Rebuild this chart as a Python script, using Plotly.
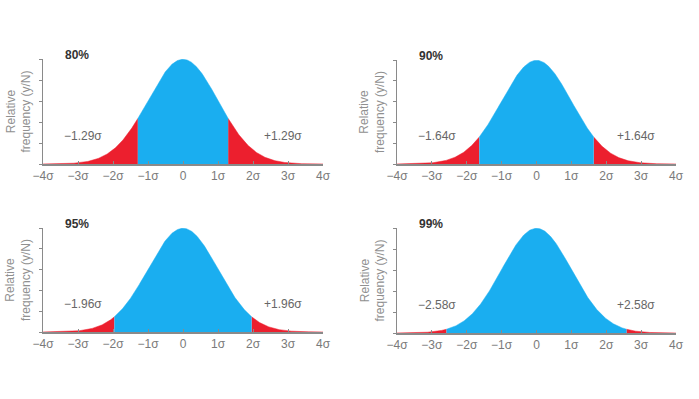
import numpy as np
import plotly.graph_objects as go

# ---- data ----
panel_titles = ["80%", "90%", "95%", "99%"]
z_values = [1.29, 1.64, 1.96, 2.58]
z_labels_left = ["\u22121.29\u03c3", "\u22121.64\u03c3", "\u22121.96\u03c3", "\u22122.58\u03c3"]
z_labels_right = ["+1.29\u03c3", "+1.64\u03c3", "+1.96\u03c3", "+2.58\u03c3"]
x_tick_vals = [-4, -3, -2, -1, 0, 1, 2, 3, 4]
x_tick_text = ["\u22124\u03c3", "\u22123\u03c3", "\u22122\u03c3", "\u22121\u03c3", "0", "1\u03c3", "2\u03c3", "3\u03c3", "4\u03c3"]
y_tick_vals = [0, 0.08, 0.16, 0.24, 0.32, 0.40]

BLUE = "#1AAEF0"
RED = "#EC1F2E"
AXIS = "#8a8a8a"
W, H = 699, 399


def pdf(x):
    return np.exp(-0.5 * x ** 2) / np.sqrt(2 * np.pi)


def px_x(p):
    return p / W


def px_y(p):
    return (H - p) / H


# window-pixel layout of the four panels: (x0, x1, ytop, ybottom)
panels_px = [(43, 323, 59, 164), (397, 676, 60, 164), (43, 323, 228, 332), (397, 676, 228, 333)]

fig = go.Figure()
layout = dict(
    template="none",
    width=W, height=H, margin=dict(l=0, r=0, t=0, b=0, pad=0, autoexpand=False),
    paper_bgcolor="white", plot_bgcolor="white", showlegend=False,
    font=dict(family="Liberation Sans, Arial, sans-serif"),
)
annotations = []

for i, (title, z, ll, rl) in enumerate(zip(panel_titles, z_values, z_labels_left, z_labels_right)):
    n = "" if i == 0 else str(i + 1)
    xa, ya = "x" + n, "y" + n
    x0, x1, yt, yb = panels_px[i]

    xl = np.linspace(-4, -z, 120)
    xc = np.linspace(-z, z, 300)
    xr = np.linspace(z, 4, 120)
    for xs, col in [(xl, RED), (xr, RED), (xc, BLUE)]:
        fig.add_trace(go.Scatter(
            x=xs, y=pdf(xs), mode="lines", fill="tozeroy",
            fillcolor=col, line=dict(color=col, width=0.5),
            xaxis=xa, yaxis=ya, hoverinfo="skip"))

    layout["xaxis" + n] = dict(
        domain=[px_x(x0), px_x(x1)], anchor=ya, range=[-4, 4], automargin=False,
        tickvals=x_tick_vals, ticktext=x_tick_text,
        showgrid=False, zeroline=False, showline=True, linecolor=AXIS, linewidth=1.5,
        ticks="inside", ticklen=3, tickcolor=AXIS,
        tickfont=dict(size=12, color="#7a7a7a"),
    )
    layout["yaxis" + n] = dict(
        domain=[px_y(yb), px_y(yt)], anchor=xa, range=[0, 0.4], automargin=False,
        tickvals=y_tick_vals, showticklabels=False,
        showgrid=False, zeroline=False, showline=True, linecolor=AXIS, linewidth=1.5,
        ticks="outside", ticklen=3, tickcolor=AXIS,
    )

    # panel title
    annotations.append(dict(
        x=px_x(x0 + 20), y=px_y(yt - 4), xref="paper", yref="paper",
        text="<b>" + title + "</b>", showarrow=False, xanchor="left", yanchor="middle",
        font=dict(size=12, color="#333333")))
    # y axis title
    annotations.append(dict(
        x=px_x(x0 - 25), y=px_y((yt + yb) / 2), xref="paper", yref="paper",
        text="Relative<br>frequency (y/N)", showarrow=False, textangle=-90,
        xanchor="center", yanchor="middle",
        font=dict(size=12, color="#909090")))
    # critical value labels
    ylab = px_y(yb - 28)
    annotations.append(dict(
        x=-2.85, y=ylab, xref=xa, yref="paper", text=ll, showarrow=False,
        xanchor="center", yanchor="middle", font=dict(size=12, color="#666666")))
    annotations.append(dict(
        x=2.85, y=ylab, xref=xa, yref="paper", text=rl, showarrow=False,
        xanchor="center", yanchor="middle", font=dict(size=12, color="#666666")))

layout["annotations"] = annotations
fig.update_layout(**layout)
fig.write_html(
    "out.html",
    config={"displayModeBar": False, "staticPlot": True},
    post_script="document.body.style.margin='0';document.body.style.overflow='hidden';",
)
